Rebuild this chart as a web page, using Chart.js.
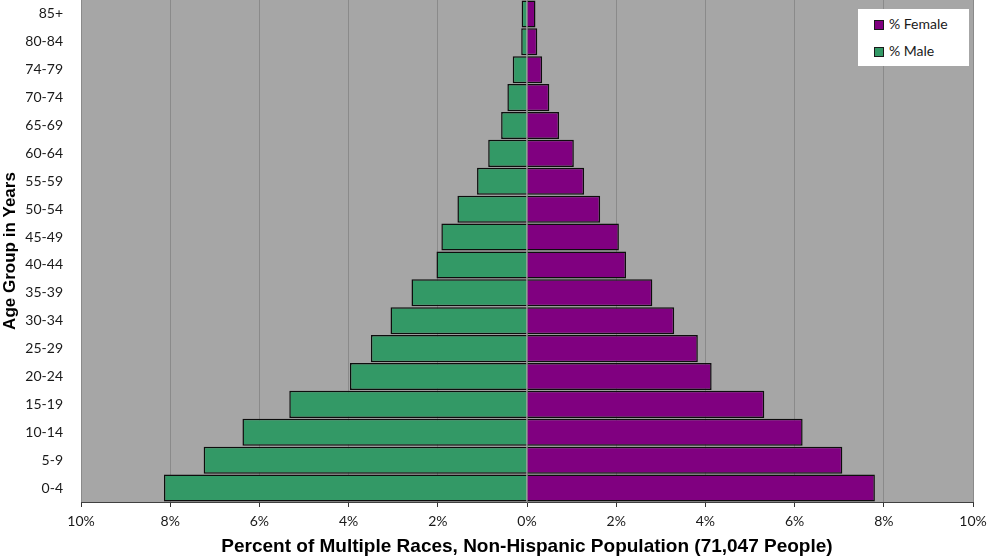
<!DOCTYPE html>
<html>
<head>
<meta charset="utf-8">
<script src="https://cdn.jsdelivr.net/npm/chart.js@4"></script>
<style>
    body { margin: 0; background: #ffffff; }
    #wrap { position: relative; width: 987px; height: 560px; }
    #legendBox {
        position: absolute; left: 858px; top: 9px; width: 111px; height: 57px;
        background: #ffffff; font-family: Lato, "Open Sans", sans-serif; font-size: 14px; color: #1a1a1a;
    }
    .item { position: absolute; left: 16px; height: 16px; line-height: 16px; }
    .item span.box { display: inline-block; width: 8px; height: 8px; border: 1px solid #1a1a1a; margin-right: 5px; vertical-align: -1px; }
</style>
</head>
<body>
<div id="wrap">
    <canvas id="myChart" width="987" height="560"></canvas>
    <div id="legendBox">
        <div class="item" style="top:7px"><span class="box" style="background:#800080"></span>% Female</div>
        <div class="item" style="top:34px"><span class="box" style="background:#339966"></span>% Male</div>
    </div>
</div>
<script>
'use strict';

// age groups, youngest first
let ageGroups = ['0-4', '5-9', '10-14', '15-19', '20-24', '25-29', '30-34', '35-39', '40-44', '45-49', '50-54', '55-59', '60-64', '65-69', '70-74', '74-79', '80-84', '85+'];
// percent of population
let malePct = [8.14, 7.25, 6.38, 5.33, 3.97, 3.50, 3.06, 2.59, 2.03, 1.92, 1.56, 1.12, 0.87, 0.58, 0.44, 0.32, 0.13, 0.12];
let femalePct = [7.80, 7.07, 6.18, 5.32, 4.14, 3.83, 3.30, 2.81, 2.22, 2.06, 1.64, 1.28, 1.05, 0.72, 0.50, 0.34, 0.23, 0.19];
let xTicks = [-10, -8, -6, -4, -2, 0, 2, 4, 6, 8, 10];

let tickFont = { family: 'Lato, "Open Sans", sans-serif', size: 14 };

// gray plot area
let plotBg = {
    id: 'plotBg',
    beforeDraw(chart) {
        let a = chart.chartArea;
        let ctx = chart.ctx;
        ctx.save();
        ctx.fillStyle = '#a6a6a6';
        ctx.fillRect(a.left, a.top, a.right - a.left, a.bottom - a.top);
        ctx.restore();
    }
};

function noPad(scale) {
    scale.paddingTop = 0;
    scale.paddingBottom = 0;
    scale.paddingLeft = 0;
    scale.paddingRight = 0;
}

let ctx = document.getElementById('myChart').getContext('2d');
let myChart = new Chart(ctx, {
    type: 'bar',
    data: {
        labels: ageGroups,
        datasets: [{
            label: '% Female',
            data: femalePct,
            backgroundColor: '#800080',
            borderColor: '#0d0d0d',
            borderWidth: 1.5
        }, {
            label: '% Male',
            data: malePct.map(v => -v),
            backgroundColor: '#339966',
            borderColor: '#0d0d0d',
            borderWidth: 1.5
        }]
    },
    options: {
        indexAxis: 'y',
        responsive: false,
        animation: false,
        layout: { padding: { top: 0, right: 14, left: 0, bottom: 0 } },
        datasets: { bar: { categoryPercentage: 0.97, barPercentage: 1 } },
        plugins: {
            legend: { display: false },
            title: { display: false },
            tooltip: { enabled: false }
        },
        scales: {
            x: {
                stacked: true,
                min: -10,
                max: 10,
                afterBuildTicks: function (scale) {
                    scale.ticks = xTicks.map(v => ({ value: v }));
                },
                afterFit: function (scale) { scale.height = 58; noPad(scale); },
                grid: { color: '#8a8a8a', tickColor: '#333333', tickLength: 5 },
                border: { display: true, color: '#404040', width: 1 },
                ticks: {
                    font: tickFont,
                    color: '#1a1a1a',
                    padding: 6,
                    maxRotation: 0,
                    callback: function (v) { return Math.abs(v) + '%'; }
                },
                title: {
                    display: true,
                    text: 'Percent of Multiple Races, Non-Hispanic Population (71,047 People)',
                    font: { family: '"Liberation Sans", Arial, sans-serif', size: 19, weight: 'bold' },
                    color: '#000000',
                    padding: { top: 0, bottom: 2 }
                }
            },
            y: {
                stacked: true,
                reverse: true,
                afterFit: function (scale) { scale.width = 81; noPad(scale); },
                grid: { display: false },
                border: { display: false },
                ticks: { font: tickFont, color: '#1a1a1a', padding: 10 },
                title: {
                    display: true,
                    text: 'Age Group in Years',
                    font: { family: '"Liberation Sans", Arial, sans-serif', size: 17, weight: 'bold' },
                    color: '#000000',
                    padding: { top: 0, bottom: 0 }
                }
            }
        }
    },
    plugins: [plotBg]
});
</script>
</body>
</html>
